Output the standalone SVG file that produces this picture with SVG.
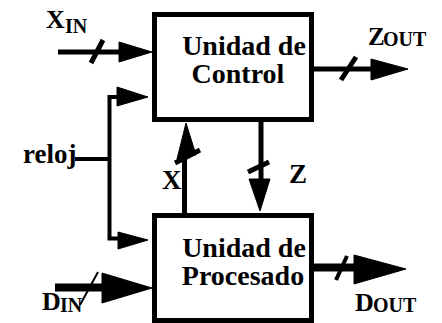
<svg xmlns="http://www.w3.org/2000/svg" width="442" height="323" viewBox="0 0 442 323">
<style>
.box{fill:#fff;stroke:#000;stroke-width:5}
.t{font-family:"Liberation Serif","Times New Roman",serif;font-weight:bold;fill:#000}
.w{stroke:#000;fill:none}
.ah{fill:#000;stroke:#000;stroke-width:1;stroke-linejoin:miter}
</style>
<rect width="442" height="323" fill="#fff"/>
<g id="connectors">
  <!-- X_IN -->
  <line class="w" x1="58" y1="52" x2="121" y2="52" stroke-width="5"/>
  <polygon class="ah" points="119,42 152,52 119,62"/>
  <line class="w" x1="91" y1="63" x2="103" y2="40" stroke-width="5"/>
  <!-- Z_OUT -->
  <line class="w" x1="314" y1="69" x2="373" y2="69" stroke-width="5"/>
  <polygon class="ah" points="371,59 408,69 371,80"/>
  <line class="w" x1="341" y1="80" x2="356" y2="57" stroke-width="5"/>
  <!-- reloj -->
  <path class="w" d="M75,159 H109.5" stroke-width="4"/>
  <path class="w" d="M119,97 H109.5 V238.5 H120" stroke-width="4"/>
  <polygon class="ah" points="117,87 148,97 117,106"/>
  <polygon class="ah" points="118,232 148,240 118,249"/>
  <!-- Z -->
  <line class="w" x1="261" y1="122" x2="261" y2="181" stroke-width="5"/>
  <polygon class="ah" points="249,179 260,211 270,179"/>
  <line class="w" x1="248" y1="172" x2="269" y2="162" stroke-width="5"/>
  <!-- X -->
  <line class="w" x1="184.5" y1="213" x2="184.5" y2="152" stroke-width="5"/>
  <polygon class="ah" points="186,123 177,159 196,155"/>
  <line class="w" x1="175" y1="163" x2="200" y2="150" stroke-width="5"/>
  <!-- D_IN -->
  <line class="w" x1="55" y1="287.5" x2="104" y2="287.5" stroke-width="8"/>
  <polygon class="ah" points="102,273 152,288 102,303"/>
  <line class="w" x1="80" y1="305" x2="98" y2="272" stroke-width="2"/>
  <!-- D_OUT -->
  <line class="w" x1="314" y1="267.5" x2="356" y2="267.5" stroke-width="8"/>
  <polygon class="ah" points="354,255 406,269 354,284"/>
  <line class="w" x1="336" y1="280" x2="347" y2="256" stroke-width="4"/>
</g>
<g id="control">
  <rect class="box" x="154.5" y="14.5" width="157" height="105"/>
  <text class="t" x="244" y="55" font-size="28" text-anchor="middle">Unidad de</text>
  <text class="t" x="238" y="83" font-size="28" text-anchor="middle">Control</text>
</g>
<g id="procesado">
  <rect class="box" x="154.5" y="215.5" width="157" height="105"/>
  <text class="t" x="244" y="257" font-size="28" text-anchor="middle">Unidad de</text>
  <text class="t" x="243" y="285" font-size="28" text-anchor="middle">Procesado</text>
</g>
<g id="labels">
  <text class="t" x="46" y="27.5" font-size="26">X<tspan x="65" y="33" font-size="20">IN</tspan></text>
  <text class="t" x="368" y="45" font-size="25">Z<tspan x="383" y="46" font-size="20">OUT</tspan></text>
  <text class="t" x="355" y="311" font-size="26">D<tspan x="373" y="311.5" font-size="20">OUT</tspan></text>
  <text class="t" x="42" y="310" font-size="26">D<tspan x="60" y="311.5" font-size="20">IN</tspan></text>
  <text class="t" x="23" y="163" font-size="27">reloj</text>
  <text class="t" x="162" y="188.5" font-size="27">X</text>
  <text class="t" x="289" y="183" font-size="27">Z</text>
</g>
</svg>
